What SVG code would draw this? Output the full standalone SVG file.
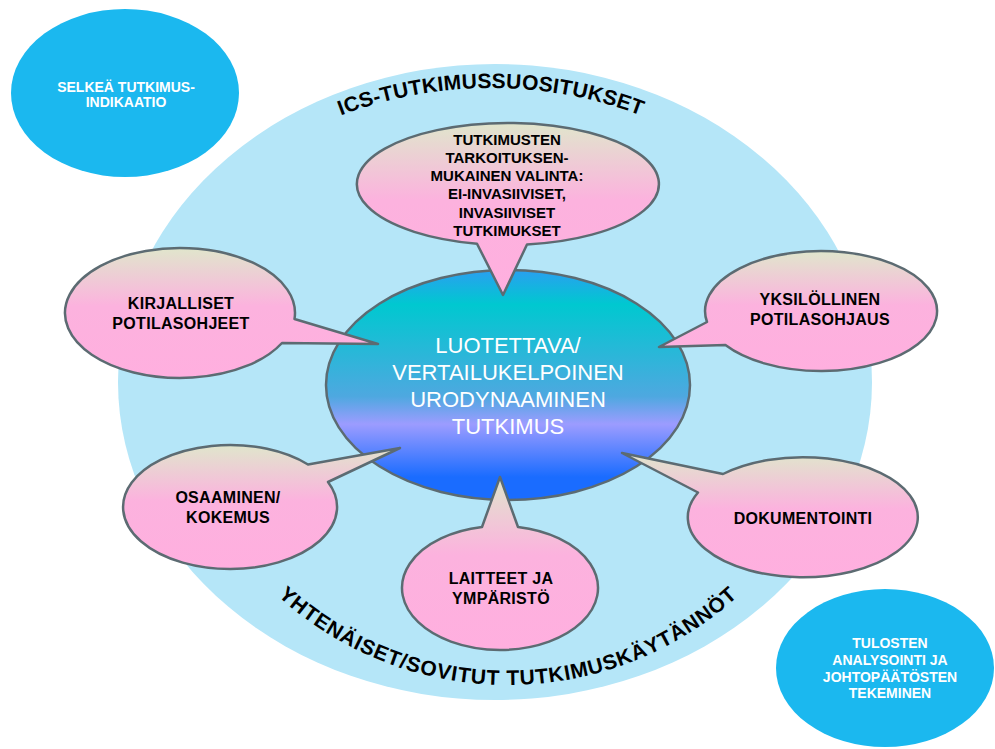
<svg xmlns="http://www.w3.org/2000/svg" width="995" height="749" viewBox="0 0 995 749">
<defs>
<linearGradient id="pink" x1="0" y1="0" x2="0" y2="1">
<stop offset="0" stop-color="#e0e6cc"/>
<stop offset="0.45" stop-color="#fcb2de"/>
<stop offset="1" stop-color="#ffafdf"/>
</linearGradient>
<linearGradient id="core" x1="0" y1="0" x2="0" y2="1">
<stop offset="0" stop-color="#2a9ff0"/>
<stop offset="0.15" stop-color="#00c8d0"/>
<stop offset="0.55" stop-color="#4ea8e0"/>
<stop offset="0.67" stop-color="#9c9cff"/>
<stop offset="0.9" stop-color="#1a6cff"/>
<stop offset="1" stop-color="#1a6cff"/>
</linearGradient>
<path id="arcTop" d="M 67 512 A 424 424 0 0 1 915 512"/>
<path id="arcBot" d="M 166 343 A 342 342 0 0 0 850 343"/>
</defs>
<style>
.bubble{fill:url(#pink);stroke:#5c6b72;stroke-width:2.5;stroke-linejoin:round}
.btxt{font-family:"Liberation Sans",Arial,sans-serif;font-weight:bold;font-size:16px;letter-spacing:0.3px;fill:#000;text-anchor:middle}
.ttxt{font-family:"Liberation Sans",Arial,sans-serif;font-weight:bold;font-size:15px;fill:#000;text-anchor:middle}
.wtxt{font-family:"Liberation Sans",Arial,sans-serif;font-weight:bold;font-size:14px;fill:#fff;text-anchor:middle}
.ctxt{font-family:"Liberation Sans",Arial,sans-serif;font-size:22px;fill:#fff;text-anchor:middle}
.arc{font-family:"Liberation Sans",Arial,sans-serif;font-weight:bold;font-size:21px;fill:#000;text-anchor:middle}
.blue{fill:#1bb8ef}
</style>
<rect width="995" height="749" fill="#fff"/>
<g id="background">
<ellipse cx="495" cy="382" rx="377" ry="318" fill="#b5e6f8"/>
<text class="arc" letter-spacing="0.3"><textPath href="#arcTop" startOffset="50%">ICS-TUTKIMUSSUOSITUKSET</textPath></text>
<text class="arc" letter-spacing="0.8"><textPath href="#arcBot" startOffset="50%">YHTENÄISET/SOVITUT TUTKIMUSKÄYTÄNNÖT</textPath></text>
</g>
<g id="indikaatio">
<ellipse class="blue" cx="125" cy="93" rx="114" ry="84"/>
<text class="wtxt" x="126" y="92">SELKEÄ TUTKIMUS-</text>
<text class="wtxt" x="126" y="107">INDIKAATIO</text>
</g>
<g id="tulosten">
<ellipse class="blue" cx="885" cy="668" rx="109" ry="79"/>
<text class="wtxt" x="890" y="648">TULOSTEN</text>
<text class="wtxt" x="890" y="665">ANALYSOINTI JA</text>
<text class="wtxt" x="890" y="682">JOHTOPÄÄTÖSTEN</text>
<text class="wtxt" x="890" y="698">TEKEMINEN</text>
</g>
<g id="center">
<ellipse cx="508" cy="385" rx="182" ry="115" fill="url(#core)" stroke="#5c6b72" stroke-width="2.5"/>
<text class="ctxt" x="508" y="353">LUOTETTAVA/</text>
<text class="ctxt" x="508" y="380">VERTAILUKELPOINEN</text>
<text class="ctxt" x="508" y="407">URODYNAAMINEN</text>
<text class="ctxt" x="508" y="434">TUTKIMUS</text>
</g>
<g id="connectors"></g>
<g id="valinta">
<path class="bubble" d="M 477 243.7 L 503 295 L 527 244.5 A 151 61 0 1 0 477 243.7 Z"/>
<text class="ttxt" x="507" y="144.5">TUTKIMUSTEN</text>
<text class="ttxt" x="507" y="162.8">TARKOITUKSEN-</text>
<text class="ttxt" x="507" y="181.1">MUKAINEN VALINTA:</text>
<text class="ttxt" x="507" y="199.4">EI-INVASIIVISET,</text>
<text class="ttxt" x="507" y="217.7">INVASIIVISET</text>
<text class="ttxt" x="507" y="236">TUTKIMUKSET</text>
</g>
<g id="kirjalliset">
<path class="bubble" d="M 294.5 319 L 378 344 L 282 343 A 115 65 0 1 1 294.5 319 Z"/>
<text class="btxt" x="181" y="309">KIRJALLISET</text>
<text class="btxt" x="181" y="329">POTILASOHJEET</text>
</g>
<g id="yksilollinen">
<path class="bubble" d="M 707 322 L 659 347 L 725.4 345 A 116 60 0 1 0 707 322 Z"/>
<text class="btxt" x="820" y="305">YKSILÖLLINEN</text>
<text class="btxt" x="820" y="325">POTILASOHJAUS</text>
</g>
<g id="osaaminen">
<path class="bubble" d="M 308 464.5 L 400 448 L 328 482 A 107 62 0 1 1 308 464.5 Z"/>
<text class="btxt" x="228" y="503">OSAAMINEN/</text>
<text class="btxt" x="228" y="523">KOKEMUS</text>
</g>
<g id="dokumentointi">
<path class="bubble" d="M 723 474 L 622 453 L 698 492.5 A 115 60 0 1 0 723 474 Z"/>
<text class="btxt" x="803" y="524">DOKUMENTOINTI</text>
</g>
<g id="laitteet">
<path class="bubble" d="M 482 527 L 500 477 L 518 527 A 98 62 0 1 1 482 527 Z"/>
<text class="btxt" x="501" y="584">LAITTEET JA</text>
<text class="btxt" x="501" y="604">YMPÄRISTÖ</text>
</g>
</svg>
